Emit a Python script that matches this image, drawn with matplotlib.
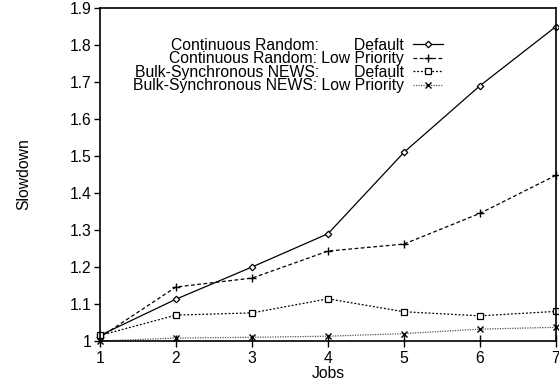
import matplotlib
matplotlib.use("Agg")
import matplotlib.pyplot as plt
from matplotlib.ticker import FormatStrFormatter

plt.rcParams['font.family'] = ['Liberation Sans', 'DejaVu Sans']

jobs = [1, 2, 3, 4, 5, 6, 7]
cr_default = [1.015, 1.113, 1.200, 1.290, 1.510, 1.690, 1.850]
cr_low = [1.010, 1.146, 1.170, 1.243, 1.262, 1.345, 1.448]
bsn_default = [1.015, 1.070, 1.076, 1.114, 1.079, 1.068, 1.080]
bsn_low = [1.000, 1.008, 1.010, 1.013, 1.020, 1.032, 1.037]

labels = [
    "Continuous Random:        Default",
    "Continuous Random: Low Priority",
    "Bulk-Synchronous NEWS:        Default",
    "Bulk-Synchronous NEWS: Low Priority",
]
yticks = [1, 1.1, 1.2, 1.3, 1.4, 1.5, 1.6, 1.7, 1.8, 1.9]

fig = plt.figure(figsize=(5.59, 3.83), dpi=100)
ax = fig.add_axes([100/559, 1-341/383, 456/559, 333/383])

fs = 11.3
lw = 0.9
ax.plot(jobs, cr_default, color='black', lw=lw, ls='-', marker='D', ms=3.3,
        mfc='white', mec='black', mew=0.9, clip_on=False, label=labels[0])
ax.plot(jobs, cr_low, color='black', lw=lw, ls=(0, (3, 2)), marker='+', ms=5.5,
        mew=1.0, clip_on=False, label=labels[1])
ax.plot(jobs, bsn_default, color='black', lw=lw, ls=(0, (1.5, 1.5)), marker='s', ms=4.5,
        mfc='white', mec='black', mew=0.9, clip_on=False, label=labels[2])
ax.plot(jobs, bsn_low, color='#555555', lw=lw, ls=(0, (1, 1)), marker='x', ms=4.5,
        mec='black', mew=1.0, clip_on=False, label=labels[3])

ax.set_xlim(1, 7)
ax.set_ylim(1, 1.9)
ax.set_xticks(jobs)
ax.set_yticks(yticks)
ax.yaxis.set_major_formatter(FormatStrFormatter('%g'))
ax.tick_params(axis='x', direction='inout', length=8, width=1.0, labelsize=fs, pad=3)
ax.tick_params(axis='y', direction='out', length=4, width=1.0, labelsize=fs, pad=2)
for s in ax.spines.values():
    s.set_linewidth(1.2)

ax.set_xlabel("Jobs", fontsize=fs, labelpad=0.5)
ax.set_ylabel("Slowdown", fontsize=fs, labelpad=28)

leg = ax.legend(loc='upper right', bbox_to_anchor=((443-100)/456, (341-37.5)/333),
                markerfirst=False, frameon=False, fontsize=fs, handlelength=1.9,
                handletextpad=0.6, labelspacing=-0.09, borderpad=0, borderaxespad=0)

fig.savefig("out.png", dpi=100)
